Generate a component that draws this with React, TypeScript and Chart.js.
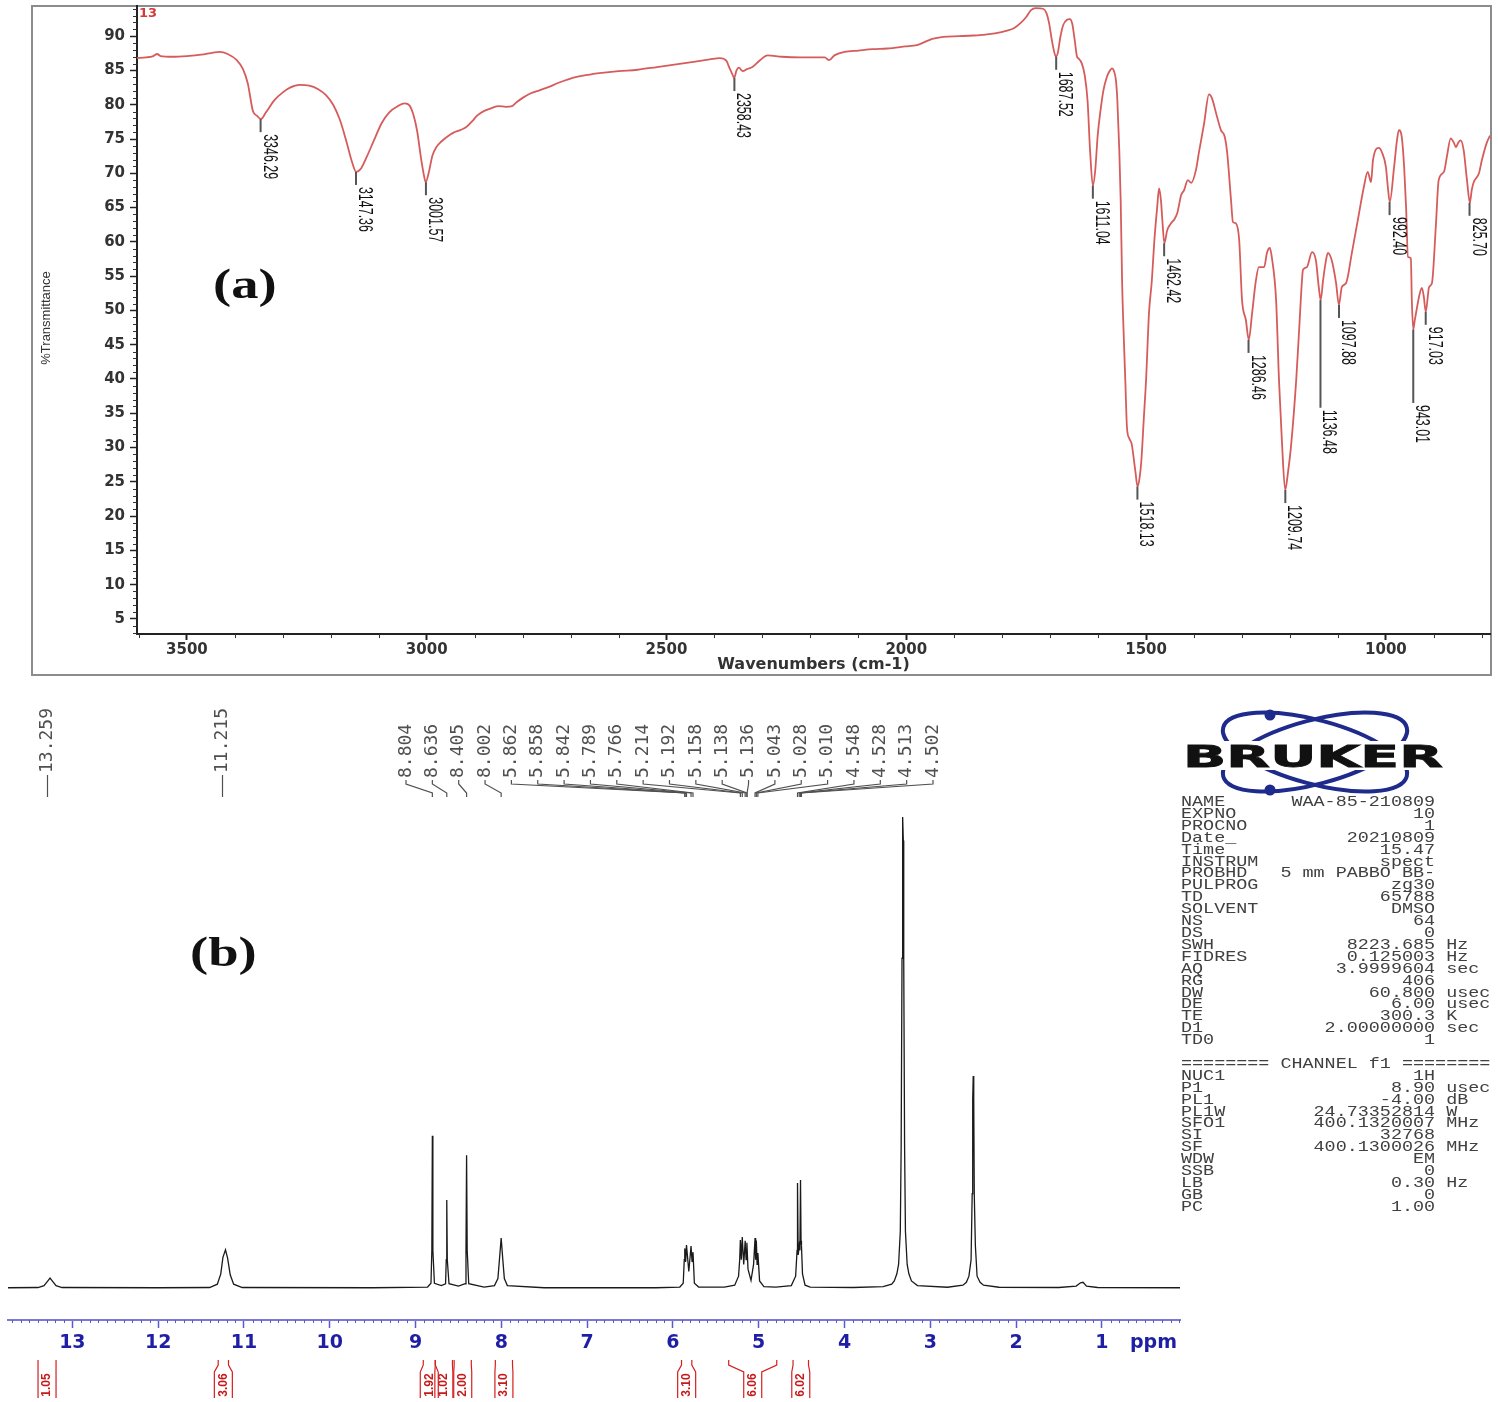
import React, { useEffect, useRef } from "react";
import { Chart, registerables } from "chart.js";

Chart.register(...registerables);

// ---------------- (a) FT-IR spectrum ----------------
const irWavenumber = [
  3604, 3585, 3570, 3562, 3555, 3530, 3500, 3470, 3445, 3432, 3415, 3396, 3383, 3373, 3362, 3354, 3346, 3335,
  3317, 3300, 3285, 3265, 3245, 3227, 3210, 3195, 3181, 3168, 3155, 3147, 3138, 3125, 3110, 3094, 3078, 3060,
  3046, 3036, 3028, 3020, 3012, 3006, 3002, 2996, 2988, 2980, 2970, 2958, 2945, 2930, 2918, 2905, 2895, 2880,
  2865, 2850, 2835, 2822, 2812, 2800, 2785, 2765, 2745, 2725, 2705, 2685, 2660, 2640, 2600, 2560, 2520, 2480,
  2440, 2410, 2389, 2375, 2369, 2363, 2359, 2354, 2349, 2341, 2332, 2321, 2305, 2289, 2260, 2220, 2190, 2170,
  2161, 2150, 2129, 2100, 2070, 2040, 2002, 1978, 1960, 1946, 1923, 1890, 1860, 1842, 1815, 1790, 1775, 1762,
  1750, 1740, 1730, 1715, 1708, 1702, 1697, 1692, 1688, 1684, 1679, 1673, 1665, 1659, 1654, 1649, 1644, 1640,
  1634, 1628, 1622, 1617, 1611, 1606, 1601, 1595, 1589, 1582, 1577, 1571, 1567, 1563, 1560, 1556, 1553, 1550,
  1547, 1543, 1540, 1535, 1530, 1526, 1522, 1518, 1514, 1510, 1505, 1500, 1494, 1488, 1483, 1477, 1473, 1469,
  1466, 1462, 1456, 1448, 1441, 1435, 1427, 1421, 1413, 1406, 1396, 1390, 1379, 1369, 1363, 1352, 1344, 1336,
  1331, 1323, 1319, 1313, 1306, 1300, 1292, 1286, 1279, 1271, 1265, 1254, 1248, 1242, 1238, 1229, 1223, 1217,
  1210, 1204, 1198, 1187, 1181, 1175, 1173, 1165, 1154, 1146, 1140, 1136, 1131, 1125, 1121, 1113, 1104, 1098,
  1092, 1083, 1071, 1056, 1046, 1038, 1031, 1027, 1015, 1008, 1000, 996, 992, 983, 977, 973, 967, 962, 958,
  954, 948, 946, 943, 940, 935, 931, 925, 921, 917, 910, 904, 896, 890, 879, 873, 865, 858, 854, 849, 844, 838,
  831, 825, 821, 817, 806, 800, 790, 783,
];
const irTransmittance = [
  86.8, 86.9, 87.1, 87.4, 87.1, 87.0, 87.1, 87.3, 87.6, 87.7, 87.4, 86.5, 85.2, 83.1, 79.0, 78.4, 77.9, 78.9,
  80.7, 81.8, 82.5, 82.9, 82.8, 82.3, 81.4, 80.0, 77.8, 74.8, 71.5, 70.2, 70.6, 72.4, 74.8, 77.3, 78.9, 79.8,
  80.2, 79.9, 78.6, 76.2, 72.3, 69.8, 68.7, 70.0, 72.6, 73.8, 74.6, 75.3, 75.9, 76.3, 76.7, 77.6, 78.4, 79.1,
  79.5, 79.8, 79.7, 79.8, 80.4, 81.0, 81.6, 82.1, 82.6, 83.2, 83.7, 84.1, 84.4, 84.6, 84.9, 85.1, 85.5, 85.9,
  86.3, 86.6, 86.8, 86.4, 85.4, 84.5, 83.9, 85.0, 85.4, 84.9, 85.2, 85.5, 86.5, 87.2, 87.0, 86.9, 86.9, 86.9,
  86.5, 87.2, 87.7, 87.9, 88.1, 88.2, 88.5, 88.7, 89.2, 89.6, 89.9, 90.0, 90.1, 90.2, 90.4, 90.8, 91.2, 91.9,
  92.8, 93.8, 94.1, 94.0, 93.4, 91.8, 89.6, 87.8, 87.0, 87.6, 89.8, 91.6, 92.4, 92.5, 91.8, 89.5, 87.0, 86.7,
  86.0, 84.3, 80.5, 73.5, 68.2, 70.5, 75.5, 79.2, 82.1, 84.0, 84.8, 85.3, 84.9, 83.6, 80.7, 73.5, 66.0, 54.0,
  47.0, 39.0, 33.0, 31.3, 30.5, 28.5, 26.3, 24.3, 25.4, 28.0, 34.0, 40.0, 49.6, 54.4, 60.0, 65.0, 67.8, 66.0,
  63.0, 59.8, 61.7, 62.7, 63.3, 64.2, 66.8, 67.5, 69.0, 68.6, 70.5, 73.0, 77.3, 81.5, 81.0, 78.2, 76.3, 75.3,
  73.0, 66.1, 62.9, 62.7, 60.3, 51.5, 48.6, 45.7, 49.6, 54.4, 56.3, 56.3, 58.4, 59.1, 57.8, 51.5, 39.9, 31.1,
  23.8, 26.5, 30.1, 39.9, 47.1, 54.4, 55.9, 56.3, 58.5, 57.3, 53.4, 51.5, 54.4, 57.3, 58.4, 57.3, 54.0, 50.8,
  53.4, 54.0, 58.4, 64.2, 68.0, 70.2, 68.7, 71.9, 73.7, 73.0, 70.9, 68.0, 65.8, 70.9, 74.8, 76.3, 75.3, 70.9, 65.1,
  57.8, 57.6, 51.5, 47.2, 48.5, 50.5, 52.0, 53.3, 52.0, 49.8, 53.4, 54.0, 62.2, 69.0, 70.2, 72.4, 75.1, 74.4, 73.8, 74.5, 74.8, 73.4,
  69.0, 65.7, 67.6, 68.7, 70.0, 71.9, 74.4, 75.5,
];
const irPeakWavenumber = [3346.29, 3147.36, 3001.57, 2358.43, 1687.52, 1611.04, 1518.13, 1462.42, 1286.46, 1209.74, 1136.48, 1097.88, 992.4, 943.01, 917.03, 825.7];
const irPeakTransmittance = [77.9, 70.2, 68.7, 83.9, 87.0, 68.2, 24.3, 59.8, 45.7, 23.8, 51.5, 50.8, 65.8, 47.2, 49.8, 65.7];
const irPeakLabelLevel = [76.0, 68.3, 66.8, 82.0, 85.1, 66.3, 22.4, 57.9, 43.8, 21.9, 35.8, 48.9, 63.9, 36.5, 47.9, 63.8];
const irYTicks = [5, 10, 15, 20, 25, 30, 35, 40, 45, 50, 55, 60, 65, 70, 75, 80, 85, 90];
const irXTicks = [1000, 1500, 2000, 2500, 3000, 3500];

// ---------------- (b) 1H NMR spectrum ----------------
const nmrPpm = [
  13.75, 13.4, 13.33, 13.29, 13.26, 13.23, 13.19, 13.12, 12.0,
  11.4, 11.31, 11.27, 11.245, 11.215, 11.19, 11.16, 11.12, 11.02, 9.5,
  8.86, 8.82, 8.81, 8.804, 8.798, 8.78, 8.7,
  8.65, 8.642, 8.636, 8.63, 8.61, 8.5,
  8.42, 8.412, 8.405, 8.398, 8.38, 8.2,
  8.08, 8.04, 8.02, 8.002, 7.985, 7.965, 7.93, 7.5, 6.2,
  5.92, 5.88, 5.868, 5.862, 5.852, 5.842, 5.815, 5.789, 5.777, 5.766, 5.75, 5.7, 5.4,
  5.28, 5.235, 5.222, 5.214, 5.203, 5.192, 5.175, 5.158, 5.147, 5.138, 5.125, 5.09,
  5.06, 5.043, 5.036, 5.028, 5.019, 5.01, 4.99, 4.94, 4.8,
  4.62, 4.57, 4.553, 4.548, 4.54, 4.528, 4.52, 4.513, 4.507, 4.502, 4.49, 4.46, 4.4, 3.9,
  3.55, 3.45, 3.42, 3.39, 3.37, 3.35, 3.34, 3.33, 3.325, 3.32, 3.315, 3.31, 3.30, 3.29, 3.27, 3.25, 3.22, 3.15, 2.8,
  2.62, 2.58, 2.55, 2.525, 2.512, 2.506, 2.5, 2.494, 2.488, 2.475, 2.455, 2.42, 2.38, 2.2,
  1.5, 1.3, 1.25, 1.22, 1.18, 1.05, 0.09,
];
const nmrIntensity = [
  0.05, 0.1, 0.5, 1.4, 2.1, 1.4, 0.5, 0.1, 0.05,
  0.1, 0.8, 3.0, 6.5, 8.1, 6.3, 2.8, 0.8, 0.1, 0.05,
  0.2, 1.0, 8.0, 32.3, 8.0, 1.0, 0.5,
  0.9, 6.0, 18.7, 6.0, 0.9, 0.4,
  0.9, 8.0, 28.2, 8.0, 0.9, 0.2,
  0.5, 2.0, 6.5, 10.6, 6.5, 2.0, 0.5, 0.05, 0.05,
  0.2, 1.0, 6.0, 8.4, 5.5, 9.1, 3.5, 8.9, 5.5, 7.6, 1.0, 0.2, 0.2,
  0.6, 2.5, 6.0, 10.2, 6.0, 10.8, 5.0, 10.0, 6.0, 9.6, 4.0, 1.6,
  5.0, 10.6, 6.0, 10.1, 5.0, 7.4, 1.5, 0.3, 0.2,
  0.5, 2.5, 8.0, 22.3, 7.0, 9.0, 8.0, 22.9, 10.0, 9.0, 3.0, 0.6, 0.2, 0.1,
  0.3, 0.8, 1.5, 3.0, 5.0, 12, 30, 70, 95, 100, 95, 70, 30, 12, 5.0, 3.0, 1.5, 0.5, 0.15,
  0.6, 1.2, 2.5, 6.0, 20, 40, 45, 40, 20, 9.0, 2.5, 1.2, 0.6, 0.15,
  0.1, 0.4, 1.1, 1.2, 0.4, 0.1, 0.05,
];
const nmrIsolatedLabels = [13.259, 11.215];
const nmrGroupLabels = [8.804, 8.636, 8.405, 8.002, 5.862, 5.858, 5.842, 5.789, 5.766, 5.214, 5.192, 5.158, 5.138, 5.136, 5.043, 5.028, 5.01, 4.548, 4.528, 4.513, 4.502];
const nmrXTicks = [1, 2, 3, 4, 5, 6, 7, 8, 9, 10, 11, 12, 13];
const nmrIntegralFrom = [13.4, 11.3, 8.91, 8.77, 8.55, 8.07, 5.9, 5.35, 4.6];
const nmrIntegralTo = [13.19, 11.18, 8.77, 8.57, 8.35, 7.87, 5.78, 4.79, 4.42];
const nmrIntegralValue = ["1.05", "3.06", "1.92", "1.02", "2.00", "3.10", "3.10", "6.06", "6.02"];

// ---------------- Bruker parameter block ----------------
const brukerNames = ["NAME", "EXPNO", "PROCNO", "Date_", "Time", "INSTRUM", "PROBHD", "PULPROG", "TD", "SOLVENT", "NS", "DS", "SWH", "FIDRES", "AQ", "RG", "DW", "DE", "TE", "D1", "TD0"];
const brukerValues = ["WAA-85-210809", "10", "1", "20210809", "15.47", "spect", "5 mm PABBO BB-", "zg30", "65788", "DMSO", "64", "0", "8223.685", "0.125003", "3.9999604", "406", "60.800", "6.00", "300.3", "2.00000000", "1"];
const brukerUnits = ["", "", "", "", "", "", "", "", "", "", "", "", "Hz", "Hz", "sec", "", "usec", "usec", "K", "sec", ""];
const channelNames = ["NUC1", "P1", "PL1", "PL1W", "SFO1", "SI", "SF", "WDW", "SSB", "LB", "GB", "PC"];
const channelValues = ["1H", "8.90", "-4.00", "24.73352814", "400.1320007", "32768", "400.1300026", "EM", "0", "0.30", "0", "1.00"];
const channelUnits = ["", "usec", "dB", "W", "MHz", "", "MHz", "", "", "Hz", "", ""];

function fmtRow(n: string, v: string, u: string) {
  return n.padEnd(9) + v.padStart(14) + (u ? " " + u : "");
}

function IRChart() {
  const ref = useRef<HTMLCanvasElement>(null);
  useEffect(() => {
    const decor = {
      id: "irDecor",
      beforeDraw(chart: any) {
        const ctx = chart.ctx;
        ctx.save();
        ctx.fillStyle = "#ffffff";
        ctx.fillRect(0, 0, chart.width, chart.height);
        ctx.strokeStyle = "#8c8c8c";
        ctx.lineWidth = 2;
        ctx.strokeRect(32, 6, 1459, 669);
        ctx.restore();
      },
      afterDraw(chart: any) {
        const ctx = chart.ctx;
        const x = chart.scales.x;
        const y = chart.scales.y;
        const ca = chart.chartArea;
        ctx.save();
        ctx.strokeStyle = "#333";
        ctx.lineWidth = 1;
        for (let v = 3; v <= 94; v++) {
          if (v % 5 === 0) continue;
          const py = Math.round(y.getPixelForValue(v)) + 0.5;
          ctx.beginPath();
          ctx.moveTo(ca.left - 4, py);
          ctx.lineTo(ca.left, py);
          ctx.stroke();
        }
        for (let v = 800; v <= 3600; v += 100) {
          if (v % 500 === 0) continue;
          const px = Math.round(x.getPixelForValue(v)) + 0.5;
          ctx.beginPath();
          ctx.moveTo(px, ca.bottom);
          ctx.lineTo(px, ca.bottom + 4);
          ctx.stroke();
        }
        // peak labels
        irPeakWavenumber.forEach((wn, i) => {
          const px = x.getPixelForValue(wn);
          const y0 = y.getPixelForValue(irPeakTransmittance[i]);
          const y1 = y.getPixelForValue(irPeakLabelLevel[i]);
          ctx.strokeStyle = "#555";
          ctx.lineWidth = 2;
          ctx.beginPath();
          ctx.moveTo(px, y0);
          ctx.lineTo(px, y1);
          ctx.stroke();
          ctx.save();
          ctx.translate(px + 3, y1 + 2);
          ctx.rotate(Math.PI / 2);
          ctx.scale(0.83, 1.35);
          ctx.font = "15px 'Liberation Sans'";
          ctx.fillStyle = "#111";
          ctx.textAlign = "left";
          ctx.textBaseline = "alphabetic";
          ctx.fillText(wn.toFixed(2), 0, 0);
          ctx.restore();
        });
        // axis titles
        ctx.fillStyle = "#333";
        ctx.font = "bold 16px 'DejaVu Sans'";
        ctx.textAlign = "center";
        ctx.textBaseline = "middle";
        ctx.fillText("Wavenumbers (cm-1)", (ca.left + ca.right) / 2, 665);
        ctx.save();
        ctx.translate(46, 318);
        ctx.rotate(-Math.PI / 2);
        ctx.font = "13px 'Liberation Sans'";
        ctx.fillText("%Transmittance", 0, 0);
        ctx.restore();
        ctx.fillStyle = "#d23a3a";
        ctx.font = "bold 13px 'DejaVu Sans'";
        ctx.textAlign = "left";
        ctx.fillText("13", 139, 14);
        ctx.restore();
      },
    };
    const chart = new Chart(ref.current as HTMLCanvasElement, {
      type: "line",
      data: {
        datasets: [
          {
            data: irWavenumber.map((w, i) => ({ x: w, y: irTransmittance[i] })),
            borderColor: "#d65c5c",
            borderWidth: 1.8,
            pointRadius: 0,
            cubicInterpolationMode: "monotone",
            fill: false,
          },
        ],
      },
      options: {
        animation: false,
        responsive: false,
        devicePixelRatio: 1,
        events: [],
        layout: { padding: { left: 0, right: 8, top: 6, bottom: 0 } },
        plugins: { legend: { display: false }, tooltip: { enabled: false } },
        scales: {
          x: {
            type: "linear",
            reverse: true,
            min: 783,
            max: 3604,
            afterBuildTicks: (s: any) => {
              s.ticks = irXTicks.map((v) => ({ value: v }));
            },
            afterFit: (s: any) => {
              s.height = 56;
              s.paddingLeft = 0;
              s.paddingRight = 0;
            },
            grid: { drawOnChartArea: false, drawTicks: true, tickLength: 6, tickColor: "#222", tickWidth: 2 },
            border: { display: true, color: "#222", width: 2 },
            ticks: {
              autoSkip: false,
              maxRotation: 0,
              padding: 1,
              color: "#333",
              font: { family: "DejaVu Sans", size: 15, weight: "bold" },
              callback: (v: any) => String(v),
            },
          },
          y: {
            type: "linear",
            min: 2.8,
            max: 94.4,
            afterBuildTicks: (s: any) => {
              s.ticks = irYTicks.map((v) => ({ value: v }));
            },
            afterFit: (s: any) => {
              s.width = 137;
              s.paddingTop = 0;
              s.paddingBottom = 0;
            },
            grid: { drawOnChartArea: false, drawTicks: true, tickLength: 7, tickColor: "#222", tickWidth: 1.5 },
            border: { display: true, color: "#222", width: 2 },
            ticks: {
              padding: 5,
              color: "#333",
              font: { family: "DejaVu Sans", size: 15, weight: "bold" },
              callback: (v: any) => String(v),
            },
          },
        },
      },
      plugins: [decor],
    } as any);
    return () => chart.destroy();
  }, []);
  return <canvas ref={ref} width={1498} height={690} style={{ position: "absolute", left: 0, top: 0 }} />;
}

function NMRChart() {
  const ref = useRef<HTMLCanvasElement>(null);
  useEffect(() => {
    const decor = {
      id: "nmrDecor",
      afterDraw(chart: any) {
        const ctx = chart.ctx;
        const x = chart.scales.x;
        const ca = chart.chartArea;
        ctx.save();
        // minor ticks
        ctx.strokeStyle = "#5a5ac8";
        ctx.lineWidth = 1;
        for (let i = 1; i <= 137; i++) {
          if (i % 10 === 0) continue;
          const px = Math.round(x.getPixelForValue(i / 10)) + 0.5;
          ctx.beginPath();
          ctx.moveTo(px, ca.bottom);
          ctx.lineTo(px, ca.bottom + 3);
          ctx.stroke();
        }
        // ppm unit
        ctx.fillStyle = "#1f1fa5";
        ctx.font = "bold 19px 'DejaVu Sans'";
        ctx.textAlign = "left";
        ctx.textBaseline = "middle";
        ctx.fillText("ppm", x.getPixelForValue(1) + 28, 643);
        // peak labels
        ctx.font = "18px 'DejaVu Sans Mono'";
        ctx.fillStyle = "#505050";
        ctx.strokeStyle = "#505050";
        ctx.lineWidth = 1.2;
        nmrIsolatedLabels.forEach((ppm) => {
          const px = Math.round(x.getPixelForValue(ppm)) - 3 + 0.5;
          ctx.beginPath();
          ctx.moveTo(px, 97);
          ctx.lineTo(px, 75);
          ctx.stroke();
          ctx.save();
          ctx.translate(px, 73);
          ctx.rotate(-Math.PI / 2);
          ctx.textAlign = "left";
          ctx.textBaseline = "middle";
          ctx.fillText(ppm.toFixed(3), 0, 0);
          ctx.restore();
        });
        const n = nmrGroupLabels.length;
        const start = 406;
        const end = 933;
        nmrGroupLabels.forEach((ppm, i) => {
          const lx = start + ((end - start) * i) / (n - 1);
          const px = x.getPixelForValue(ppm);
          ctx.save();
          ctx.translate(lx, 78);
          ctx.rotate(-Math.PI / 2);
          ctx.textAlign = "left";
          ctx.textBaseline = "middle";
          ctx.fillText(ppm.toFixed(3), 0, 0);
          ctx.restore();
          ctx.beginPath();
          ctx.moveTo(lx, 80);
          ctx.lineTo(lx, 84);
          ctx.lineTo(px, 93);
          ctx.lineTo(px, 97);
          ctx.stroke();
        });
        // integrals
        ctx.strokeStyle = "#d42020";
        ctx.fillStyle = "#c41a1a";
        ctx.lineWidth = 1.2;
        ctx.font = "bold 12px 'Liberation Sans'";
        nmrIntegralFrom.forEach((from, i) => {
          const x1 = x.getPixelForValue(from);
          const x2 = x.getPixelForValue(nmrIntegralTo[i]);
          const cx = (x1 + x2) / 2;
          const hw = 9;
          ctx.beginPath();
          ctx.moveTo(x1, 660);
          ctx.lineTo(x1, 665);
          ctx.lineTo(cx - hw, 672);
          ctx.lineTo(cx - hw, 698);
          ctx.moveTo(x2, 660);
          ctx.lineTo(x2, 665);
          ctx.lineTo(cx + hw, 672);
          ctx.lineTo(cx + hw, 698);
          ctx.stroke();
          ctx.save();
          ctx.translate(cx, 685);
          ctx.rotate(-Math.PI / 2);
          ctx.textAlign = "center";
          ctx.textBaseline = "middle";
          ctx.fillText(nmrIntegralValue[i], 0, 0);
          ctx.restore();
        });
        ctx.restore();
      },
    };
    const chart = new Chart(ref.current as HTMLCanvasElement, {
      type: "line",
      data: {
        datasets: [
          {
            data: nmrPpm.map((p, i) => ({ x: p, y: nmrIntensity[i] })),
            borderColor: "#1a1a1a",
            borderWidth: 1.3,
            pointRadius: 0,
            tension: 0,
            fill: false,
          },
        ],
      },
      options: {
        animation: false,
        responsive: false,
        devicePixelRatio: 1,
        events: [],
        layout: { padding: { left: 8, right: 10, top: 100, bottom: 0 } },
        plugins: { legend: { display: false }, tooltip: { enabled: false } },
        scales: {
          x: {
            type: "linear",
            reverse: true,
            min: 0.09,
            max: 13.75,
            afterBuildTicks: (s: any) => {
              s.ticks = nmrXTicks.map((v) => ({ value: v }));
            },
            afterFit: (s: any) => {
              s.height = 82;
              s.paddingLeft = 0;
              s.paddingRight = 0;
            },
            grid: { drawOnChartArea: false, drawTicks: true, tickLength: 8, tickColor: "#5a5ac8", tickWidth: 1.5 },
            border: { display: true, color: "#7a7ad6", width: 2 },
            ticks: {
              autoSkip: false,
              maxRotation: 0,
              padding: 4,
              color: "#1f1fa5",
              font: { family: "DejaVu Sans", size: 19, weight: "bold" },
              callback: (v: any) => String(v),
            },
          },
          y: { type: "linear", display: false, min: -6.8, max: 103.6 },
        },
      },
      plugins: [decor],
    } as any);
    return () => chart.destroy();
  }, []);
  return <canvas ref={ref} width={1190} height={702} style={{ position: "absolute", left: 0, top: 700 }} />;
}

function BrukerBlock() {
  const rows: string[] = [];
  brukerNames.forEach((n, i) => rows.push(fmtRow(n, brukerValues[i], brukerUnits[i])));
  rows.push("");
  rows.push("======== CHANNEL f1 ========");
  channelNames.forEach((n, i) => rows.push(fmtRow(n, channelValues[i], channelUnits[i])));
  return (
    <>
      <svg
        width={300}
        height={100}
        viewBox="1170 700 300 100"
        style={{ position: "absolute", left: 1170, top: 700 }}
      >
        <g fill="none" stroke="#1e2a8c" strokeWidth={4}>
          <ellipse cx={1315} cy={752} rx={95} ry={32} transform="rotate(15 1315 752)" />
          <ellipse cx={1315} cy={752} rx={95} ry={32} transform="rotate(-15 1315 752)" />
        </g>
        <circle cx={1270} cy={715} r={5.5} fill="#1e2a8c" />
        <circle cx={1270} cy={790} r={5.5} fill="#1e2a8c" />
        <rect x={1178} y={741} width={272} height={29} fill="#ffffff" />
        <text
          x={1183}
          y={767}
          textLength={260}
          lengthAdjust="spacingAndGlyphs"
          fontFamily="DejaVu Sans"
          fontWeight="bold"
          fontSize={30}
          fill="#111"
          stroke="#111"
          strokeWidth={0.8}
        >
          BRUKER
        </text>
      </svg>
      <pre
        style={{
          position: "absolute",
          left: 1181,
          top: 797,
          margin: 0,
          fontFamily: "'Liberation Mono', monospace",
          fontSize: 14,
          lineHeight: "11.9px",
          color: "#404040",
          transform: "scaleX(1.315)",
          transformOrigin: "left top",
          whiteSpace: "pre",
        }}
      >
        {rows.join("\n")}
      </pre>
    </>
  );
}

export default function App() {
  const labelStyle: any = {
    position: "absolute",
    fontFamily: "'Liberation Serif', serif",
    fontWeight: "bold",
    fontSize: 42,
    lineHeight: "42px",
    transform: "scaleX(1.3)",
    transformOrigin: "left top",
    color: "#111",
    whiteSpace: "nowrap",
  };
  return (
    <div style={{ position: "absolute", left: 0, top: 0, width: 1498, height: 1402, background: "#fff", overflow: "hidden" }}>
      <IRChart />
      <NMRChart />
      <BrukerBlock />
      <div style={{ ...labelStyle, left: 213, top: 263 }}>(a)</div>
      <div style={{ ...labelStyle, left: 190, top: 931 }}>(b)</div>
    </div>
  );
}
